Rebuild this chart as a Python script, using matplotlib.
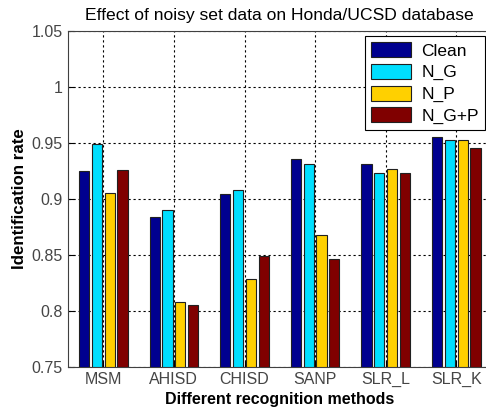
import matplotlib
matplotlib.use("Agg")
import matplotlib.pyplot as plt
import numpy as np

plt.rcParams['font.family'] = ['Liberation Sans', 'DejaVu Sans']

methods = ["MSM", "AHISD", "CHISD", "SANP", "SLR_L", "SLR_K"]
series_names = ["Clean", "N_G", "N_P", "N_G+P"]
clean = [0.925, 0.884, 0.904, 0.936, 0.931, 0.955]
n_g = [0.949, 0.890, 0.908, 0.931, 0.923, 0.953]
n_p = [0.905, 0.808, 0.828, 0.868, 0.927, 0.953]
n_gp = [0.926, 0.805, 0.849, 0.846, 0.923, 0.945]
colors = ["#00008F", "#00DFFF", "#FFD000", "#800000"]

fig = plt.figure(figsize=(4.86, 4.09), dpi=100)
ax = fig.add_axes([68/486, 1-366.7/409, (491.6-68)/486, (366.7-31)/409])

x = np.arange(1, len(methods)+1)
n = 4
gw = min(0.8, n/(n+1.5))
bw = gw/n*0.8
data = [clean, n_g, n_p, n_gp]
for i, (vals, c, name) in enumerate(zip(data, colors, series_names)):
    off = (i - (n-1)/2) * gw/n
    ax.bar(x + off, np.array(vals) - 0.75, bw, bottom=0.75, color=c,
           edgecolor='#202020', linewidth=0.8, label=name, zorder=3)

ax.set_xlim(0.5, 6.5)
ax.set_ylim(0.75, 1.05)
ax.set_xticks(x)
ax.set_xticklabels(methods)
ax.set_yticks([0.75, 0.8, 0.85, 0.9, 0.95, 1.0, 1.05])
ax.set_yticklabels(["0.75", "0.8", "0.85", "0.9", "0.95", "1", "1.05"])
ax.grid(True, linestyle=(0, (2, 2.5)), color='black', linewidth=0.8, zorder=1)
ax.set_axisbelow(True)
ax.tick_params(direction='in', length=4, labelsize=11.5, colors='black', pad=4)
for lbl in ax.get_xticklabels() + ax.get_yticklabels():
    lbl.set_color('#454545')
for s in ax.spines.values():
    s.set_color('#404040')

ax.set_title("Effect of noisy set data on Honda/UCSD database", fontsize=12.6, pad=8)
ax.set_xlabel("Different recognition methods", fontsize=11.5, fontweight='bold', labelpad=3)
ax.set_ylabel("Identification rate", fontsize=12.2, fontweight='bold', labelpad=3)

leg = ax.legend(loc='upper right', bbox_to_anchor=(485/486, 1-36/409),
                bbox_transform=fig.transFigure, fontsize=12.5, fancybox=False,
                framealpha=1, edgecolor='black', handlelength=2.3, handleheight=0.95,
                borderpad=0.35, labelspacing=0.3, handletextpad=0.6, borderaxespad=0)
leg.get_frame().set_linewidth(0.8)

fig.savefig("out.png", dpi=100)
